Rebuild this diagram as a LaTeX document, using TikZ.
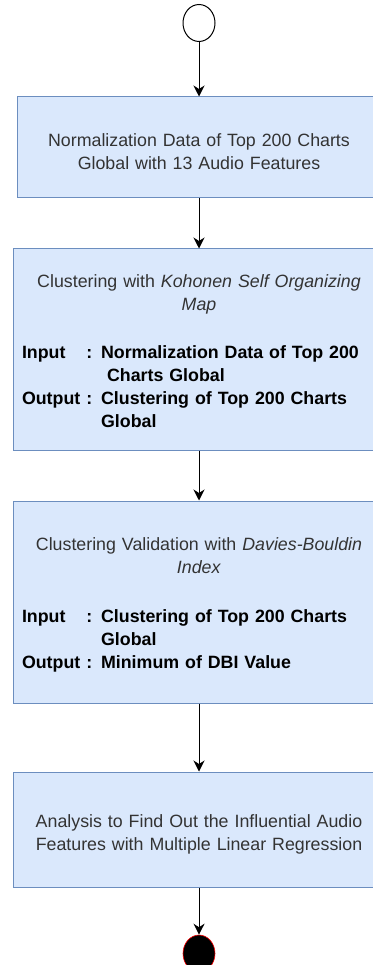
\documentclass[tikz,border=0pt]{standalone}
\usepackage{fontspec}
\setmainfont{Liberation Sans}
\usepackage{xcolor}
\usepackage{tikz}
\usetikzlibrary{shapes.geometric, arrows.meta, positioning}

\definecolor{boxfill}{HTML}{DAE8FC}
\definecolor{boxline}{HTML}{6C8EBF}
\definecolor{txtgray}{HTML}{333333}

\begin{document}
\begin{tikzpicture}[x=1pt, y=-1pt,
    process/.style={draw=boxline, fill=boxfill, line width=1pt, text=txtgray, align=center,
      font=\fontsize{17.8}{23}\selectfont, inner xsep=9pt, inner ysep=0pt,
      execute at begin node={\rule{0pt}{22pt}}},
    flow/.style={-{Stealth[length=11pt, width=11pt, inset=3.5pt]}, line width=1pt}]
    \path [fill=white, use as bounding box] (0,0) rectangle (372,965);

    % Start
    \node [draw, ellipse, line width=1pt, minimum width=32pt, minimum height=37pt, inner sep=0pt] (start) at (199,23) {};

    % Steps
    \node [process, text width=346pt, minimum height=101pt] (norm) at (199,147.5)
      {Normalization Data of Top 200 Charts\\Global with 13 Audio Features};
    \node [process, text width=354pt, minimum height=201pt] (som) at (199,349.5)
      {Clustering with \textit{Kohonen Self Organizing}\\\textit{Map}\par\vspace{25pt}
       {\raggedright\bfseries\color{black}%
        \begin{tabular}[t]{@{}l@{~}l@{}}
          Input\hspace{5pt} & : Normalization Data of Top 200\\
                 & \hphantom{: }\hspace{6pt}Charts Global\\
          Output & : Clustering of Top 200 Charts\\
                 & \hphantom{: }Global
        \end{tabular}\par}};
    \node [process, text width=354pt, minimum height=202pt] (dbi) at (199,602)
      {Clustering Validation with \textit{Davies-Bouldin}\\\textit{Index}\par\vspace{26pt}
       {\raggedright\bfseries\color{black}%
        \begin{tabular}[t]{@{}l@{~}l@{}}
          Input\hspace{5pt} & : Clustering of Top 200 Charts\\
                 & \hphantom{: }Global\\
          Output & : Minimum of DBI Value
        \end{tabular}\par}};
    \node [process, text width=354pt, minimum height=115pt] (mlr) at (199,829.5)
      {Analysis to Find Out the Influential Audio\\Features with Multiple Linear Regression};

    % End
    \node [draw=red, fill=black, ellipse, line width=0.6pt, minimum width=32pt, minimum height=37pt, inner sep=0pt] (end) at (199,953.5) {};

    % Flow
    \draw [flow] (start) -- (norm);
    \draw [flow] (norm) -- (som);
    \draw [flow] (som) -- (dbi);
    \draw [flow] (dbi) -- (mlr);
    \draw [flow] (mlr) -- (end);
\end{tikzpicture}
\end{document}
